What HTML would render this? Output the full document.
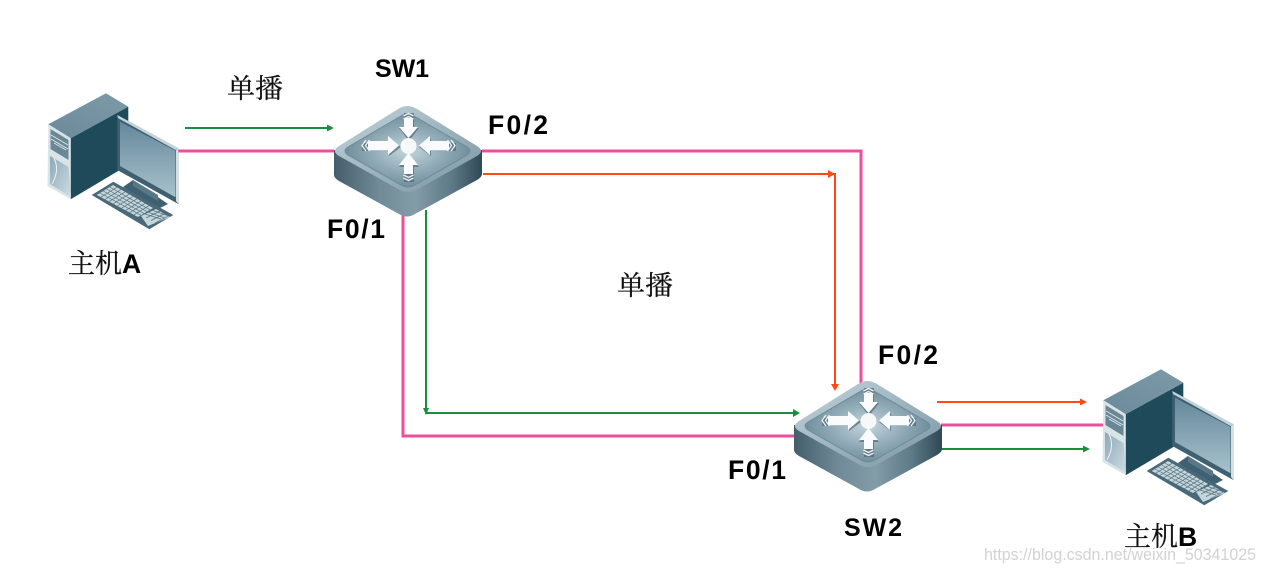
<!DOCTYPE html>
<html><head><meta charset="utf-8"><style>
html,body{margin:0;padding:0;background:#fff;width:1265px;height:572px;overflow:hidden}
svg{display:block}
.cn{font-family:"Liberation Serif","Noto Serif CJK SC",serif;font-size:27px;fill:#111;stroke:#111;stroke-width:.25}
.b{font-family:"Liberation Sans","DejaVu Sans",sans-serif;font-weight:bold;font-size:26.5px;fill:#000;stroke:none}
</style></head><body>
<svg width="1265" height="572" viewBox="0 0 1265 572" xmlns="http://www.w3.org/2000/svg">
<defs>
<linearGradient id="sc" x1="0" y1="0" x2="0" y2="1"><stop offset="0" stop-color="#65879a"/><stop offset="1" stop-color="#a8c2cd"/></linearGradient>
<linearGradient id="tf" x1="0" y1="0" x2="1" y2="1"><stop offset="0" stop-color="#8ca9b6"/><stop offset="1" stop-color="#cfdde3"/></linearGradient>
<linearGradient id="tt" x1="0" y1="1" x2="1" y2="0"><stop offset="0" stop-color="#6b8a9a"/><stop offset="1" stop-color="#7d9aa8"/></linearGradient>
<linearGradient id="side" x1="0" y1="0" x2="1" y2="0"><stop offset="0" stop-color="#435e6c"/><stop offset=".3" stop-color="#708a97"/><stop offset=".55" stop-color="#829ca8"/><stop offset=".8" stop-color="#5d7986"/><stop offset="1" stop-color="#304855"/></linearGradient>
<linearGradient id="top" x1="0" y1="0" x2="1" y2="1"><stop offset="0" stop-color="#c5d5dc"/><stop offset=".5" stop-color="#9db4bf"/><stop offset="1" stop-color="#7a95a2"/></linearGradient>
<radialGradient id="pan" cx=".5" cy=".5" r=".55"><stop offset="0" stop-color="#c4d5dc"/><stop offset=".55" stop-color="#8ea9b5"/><stop offset="1" stop-color="#6a8896"/></radialGradient>
<g id="pc">
<path d="M48.300 124.300L106 93.300 128.300 106.700 70.700 138.300Z" fill="url(#tt)"/>
<path d="M70.700 138.300L128.300 106.700V165L70.700 199.300Z" fill="#1f4a5a"/>
<path d="M48.300 124.300L70.700 138.300V199.300L47.500 186Z" fill="#d9e4e9"/>
<path d="M50.500 129L68.500 140V160L50.500 149Z" fill="#6a8795"/>
<path d="M51 135L68 145M51 139L68 149M54 143L66 150" stroke="#dce7ec" stroke-width="1"/>
<path d="M50 156L68.500 167 71 197 50 184Z" fill="url(#tf)"/>
<path d="M52 184Q60 170 54 158" fill="none" stroke="#eef3f5" stroke-width="1"/>
<path d="M123 187L133 180 168 204 158 209Z" fill="#3f6070"/>
<path d="M133 180L158 195V201L133 186Z" fill="#587888"/>
<path d="M117.300 115L178.300 148.300V204L117.300 170Z" fill="#3e6070"/>
<path d="M117.300 115L178.300 148.300 175.500 150 118 118Z" fill="#c4d4db"/>
<path d="M178.300 148.300V204L176 201V150Z" fill="#d3dfe4"/>
<path d="M120 121.700L175.500 150.700V197.300L120 166Z" fill="url(#sc)"/>
<path d="M91.700 195L113.300 181.700 173.300 215 149.300 229.300Z" fill="#4a6978"/>
<path d="M96.700 195L113 185 153 208 138 217Z" fill="#c5d5dc"/>
<path d="M100 193L141 215.200M103.200 191L144 213.400M106.500 189L147 211.600M109.700 187L150 209.800M100.800 197.200L117 187.300M105 199.400L121 189.600M109 201.600L125 191.900M113.200 203.800L129 194.200M117.400 206L133 196.500M121.500 208.200L137 198.800M125.600 210.400L141 201.100M129.700 212.600L145 203.400M133.900 214.800L149 205.700" stroke="#55737f" stroke-width=".7" fill="none"/>
<path d="M141 216L156 209 170 217 148 226Z" fill="#c5d5dc"/>
<path d="M145 214L161 219M149 212.500L165 218M153 210.500L169 216M146 218L160 211M151 220.500L165 213.500M155 223L168 216" stroke="#55737f" stroke-width=".7" fill="none"/>
</g>
<g id="sw">
<path d="M334 150V175Q334 178 339 181L399 214Q407 219 415 214L477 180Q482 177 482 174V150Z" fill="url(#side)"/>
<path d="M339 146L398 109Q407 103 417 109L477 146Q485 151 477 156L418 189Q408 195 398 189L339 156Q331 151 339 146Z" fill="url(#top)"/>
<path d="M348 147L401 116Q407 112 414 116L467 147Q473 151 467 155L415 185Q408 189 401 185L348 155Q342 151 348 147Z" fill="url(#pan)" stroke="#6a8795" stroke-width=".8"/>
<g fill="#50697a" opacity=".7">
<path d="M362 143H389V138L401 147 389 156V151H362Z"/>
<path d="M456 143H431V138L419 147 431 156V151H456Z"/>
<path d="M404 113H414V128H419L409 141 399 128H404Z"/>
<path d="M404 182H414V167H419L409 155 399 167H404Z"/>
</g>
<circle cx="408.500" cy="146" r="8" fill="#f6f8f9"/>
<g fill="#fafbfc">
<path d="M368 141H388V136L399 145.500 388 155V150.500H368Z"/>
<path d="M449 141H430V136L419 145.500 430 155V150.500H449Z"/>
<path d="M404 118H413V127H418L408.500 138 399 127H404Z"/>
<path d="M404 174H413V165H418L408.500 153 399 165H404Z"/>
</g>
<path d="M366 140L362 145.500 366 151M369.500 140L365.500 145.500 369.500 151M451 140L455 145.500 451 151M447.500 140L451.500 145.500 447.500 151M403.500 116L408.500 113.500 413.500 116M403.500 119L408.500 116.500 413.500 119M403.500 175L408.500 177.500 413.500 175M403.500 178L408.500 180.500 413.500 178" fill="none" stroke="#f2f5f7" stroke-width="1.300"/>
</g>
</defs>

<g fill="none" stroke="#ec4f9c" stroke-width="3">
<path d="M178 151H334"/>
<path d="M482 151H861V384"/>
<path d="M403 214V436H796"/>
<path d="M941 425H1104"/>
</g>
<g fill="none" stroke-width="2">
<path d="M185 128H328" stroke="#16903f"/>
<path d="M426 210V413H795" stroke="#16903f"/>
<path d="M941 449H1085" stroke="#16903f"/>
<path d="M483 174H835V385" stroke="#ff4a12"/>
<path d="M937 402H1082" stroke="#ff4a12"/>
</g>
<g fill="#16903f">
<path d="M334 128L327 124.500V131.500Z"/>
<path d="M426 415L423 408H429Z"/>
<path d="M800 413L793 409V417Z"/>
<path d="M1090 449L1083 445.500V452.500Z"/>
</g>
<g fill="#ff4a12">
<path d="M835 174L828 170V178Z"/>
<path d="M835 391L831 384H839Z"/>
<path d="M1087 402L1080 398.500V405.500Z"/>
</g>

<use href="#pc"/>
<use href="#pc" x="1055" y="276"/>
<use href="#sw"/>
<use href="#sw" x="460" y="275"/>

<text class="cn" x="227" y="98" textLength="56" lengthAdjust="spacingAndGlyphs">单播</text>
<text class="cn" x="617" y="295" textLength="56" lengthAdjust="spacingAndGlyphs">单播</text>
<text class="cn" x="68" y="273">主机<tspan class="b" font-size="25">A</tspan></text>
<text class="cn" x="1124" y="546">主机<tspan class="b" font-size="25">B</tspan></text>
<text class="b" x="375" y="77" style="font-size:25px" textLength="54" lengthAdjust="spacing">SW1</text>
<text class="b" x="844" y="536" style="font-size:25px" textLength="58" lengthAdjust="spacing">SW2</text>
<text class="b" x="488" y="134" textLength="60" lengthAdjust="spacing">F0/2</text>
<text class="b" x="327" y="238" textLength="58" lengthAdjust="spacing">F0/1</text>
<text class="b" x="878" y="364" textLength="60" lengthAdjust="spacing">F0/2</text>
<text class="b" x="728" y="479" textLength="58" lengthAdjust="spacing">F0/1</text>
<text x="984" y="560" font-family="Liberation Sans,sans-serif" font-size="16.500" fill="#d2d2d2" textLength="272" lengthAdjust="spacingAndGlyphs">https://blog.csdn.net/weixin_50341025</text>
</svg>
</body></html>
